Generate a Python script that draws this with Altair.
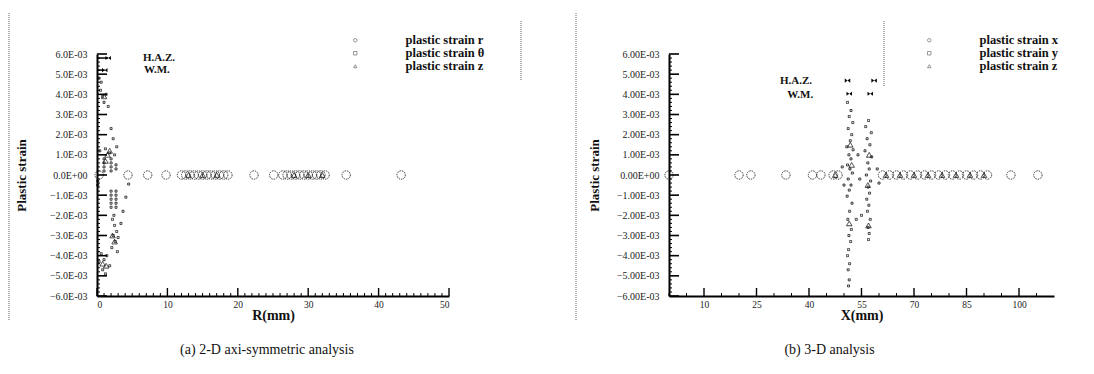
import altair as alt
import pandas as pd

SERIF = "Liberation Serif"

# ---------------- shared axis data ----------------
y_ticks = [-6, -5, -4, -3, -2, -1, 0, 1, 2, 3, 4, 5, 6]          # x 1e-3
y_minor = [v / 5 for v in range(-30, 31) if v % 5 != 0]           # x 1e-3

# ---------------- panel (a) data: 2-D axi-symmetric ----------------
a_series = ["plastic strain r", "plastic strain \u03b8", "plastic strain z"]
a_r_x = [0.3, 4.4, 7.2, 9.8, 12.0, 12.6, 13.2, 13.8, 14.4, 15.0, 15.6, 16.2, 16.8, 17.4, 18.0, 18.6,
         22.3, 25.1, 26.4, 27.0, 27.6, 28.2, 28.8, 29.4, 30.0, 30.6, 31.2, 31.8, 32.4, 35.4, 43.2]
a_r_y = [0.0] * len(a_r_x)
a_t_x = [0.5, 0.8, 1.0, 1.3, 1.6, 2.0, 2.3, 0.4, 1.2, 1.8, 2.5, 2.8,
         1.0, 1.0, 1.0, 1.0, 2.0, 2.0, 2.0, 2.0, 2.7, 2.7, 0.1, 0.1,
         2.0, 2.0, 2.0, 2.0, 2.0, 2.7, 2.7, 2.7, 2.7, 2.7,
         4.1, 4.5, 3.7, 3.4,
         2.2, 2.5, 2.8, 2.3, 2.6, 3.0, 2.1, 2.9, 2.4,
         0.6, 1.0, 1.4, 1.8, 0.8, 0.3, 1.2, 0.3, 0.6]
a_t_y = [4.2, 3.9, 3.6, 4.0, 3.4, 2.3, 1.8, 1.2, 1.3, 1.1, 1.0, 1.4,
         0.8, 0.6, 0.4, 0.2, 0.8, 0.6, 0.4, 0.2, 0.5, 0.3, -0.3, -0.5,
         -0.8, -1.0, -1.2, -1.4, -1.6, -0.8, -1.0, -1.2, -1.4, -1.6,
         -1.1, -0.45, -1.8, -2.4,
         -2.2, -2.5, -2.8, -3.0, -3.3, -3.1, -3.6, -3.8, -2.0,
         -3.9, -4.2, -4.0, -4.5, -4.7, -4.3, -4.9, 4.8, 4.6]
a_z_x = [1.5, 1.8, 1.2, 2.2, 2.5, 1.3, 0.8, 1.0, 13.0, 15.0, 17.0, 28.0, 30.0, 32.0]
a_z_y = [1.0, 1.2, 0.7, -3.0, -3.3, -4.5, -4.4, 3.9, 0.0, 0.0, 0.0, 0.0, 0.0, 0.0]
a_x_ticks = [0, 10, 20, 30, 40, 50]
a_x_minor = [v for v in range(0, 51) if v % 10 != 0]
a_notes = ["H.A.Z.", "W.M."]
a_note_x = [8.8, 8.5]
a_note_y = [5.8, 5.2]
a_bow_x = [1.6, 1.1]
a_bow_y = [5.8, 5.2]

# ---------------- panel (b) data: 3-D ----------------
b_series = ["plastic strain x", "plastic strain y", "plastic strain z"]
b_x_x = [0.0, 20.0, 23.4, 33.4, 41.0, 43.4, 46.9, 48.3,
         61, 63, 65, 67, 69, 71, 73, 75, 77, 79, 81, 83, 85, 87, 89, 91, 97.7, 105.4]
b_x_y = [0.0] * len(b_x_x)
b_y_x = [51.0, 52.0, 51.5, 52.5, 51.2, 52.2, 51.8, 50.8, 52.6, 51.4, 52.0, 51.0, 51.7, 52.4, 51.2,
         52.0, 51.5, 50.9, 52.3, 51.6, 51.1, 52.1, 51.4, 51.9, 51.3, 51.0, 51.6, 51.2, 51.5, 51.3,
         57.0, 56.2, 57.8, 56.6, 57.4, 56.0, 57.9, 56.8, 57.2, 56.4, 57.6, 56.9, 57.3, 56.5, 57.1,
         56.7, 57.5, 56.9, 57.2, 57.0,
         49.5, 50.0, 54.0, 54.5, 59.5, 60.0, 55.0, 53.5]
b_y_y = [3.6, 3.2, 2.9, 2.6, 2.3, 2.0, 1.7, 1.4, 1.25, 1.0, 0.8, 0.5, 0.3, 0.1, -0.2,
         -0.5, -0.75, -1.05, -1.4, -1.8, -2.2, -2.7, -3.0, -3.3, -3.7, -4.0, -4.4, -4.7, -5.2, -5.5,
         2.7, 2.4, 2.1, 1.8, 1.5, 1.2, 0.9, 0.6, 0.3, 0.0, -0.3, -0.6, -0.9, -1.2, -1.5,
         -1.8, -2.2, -2.6, -2.9, -3.2,
         0.4, -0.5, 1.0, -0.2, 0.3, -0.4, -2.0, -2.2]
b_z_x = [51.8, 52.2, 57.2, 56.8, 51.5, 57.0, 47.5, 62, 66, 70, 74, 78, 82, 86, 90]
b_z_y = [1.5, 0.5, 1.0, -0.5, -2.4, -2.5, 0.0, 0.0, 0.0, 0.0, 0.0, 0.0, 0.0, 0.0, 0.0]
b_x_ticks = [10, 25, 40, 55, 70, 85, 100]
b_x_minor = [0, 5, 15, 20, 30, 35, 45, 50, 60, 65, 75, 80, 90, 95, 105]
b_notes = ["H.A.Z.", "W.M."]
b_note_x = [36.3, 37.5]
b_note_y = [4.68, 3.95]
b_bow_x = [51.0, 58.6, 51.5, 57.5]
b_bow_y = [4.68, 4.68, 4.03, 4.03]

H = 242
BOWTIE = "M-1,-0.75L0,0L-1,0.75Z M1,-0.75L0,0L1,0.75Z"
SHAPES = ["circle", "square", "triangle-up"]
SIZES = [70, 4, 30]


def ylabel_expr(dec):
    zero = "0." + "0" * dec + "E+00"
    return (f"datum.value == 0 ? '{zero}' : "
            f"format(datum.value * 1000, '.{dec}f') + 'E-03'")


def panel(series, pts, xdom, xticks, xminor, xtitle, dec, notes, nx, ny, bx, by,
          width, leg_x, frame_x, leg_line_x, leg_line_bot, caption, cap_dx, hbars, title_x):
    xs = alt.Scale(domain=xdom, nice=False, zero=False)
    ys = alt.Scale(domain=[-0.006, 0.006], nice=False)
    ax_common = dict(labelFont=SERIF, labelColor="#222", domainColor="black",
                     domainWidth=2, ticks=False, grid=False, titleFont=SERIF,
                     titleFontWeight="bold", titleColor="#111")
    X = alt.X("x:Q", scale=xs, title=xtitle,
              axis=alt.Axis(values=xticks, labelPadding=3, titlePadding=0, titleFontSize=14,
                            labelFontSize=9.5, **ax_common))
    Y = alt.Y("y:Q", scale=ys, title="Plastic strain",
              axis=alt.Axis(values=[v * 1e-3 for v in y_ticks], labelExpr=ylabel_expr(dec),
                            labelPadding=10, titleX=title_x, titleFontSize=13,
                            labelFontSize=10, **ax_common))
    SH = alt.Shape("series:N", scale=alt.Scale(domain=series, range=SHAPES),
                   legend=alt.Legend(title=None, orient="none", legendX=leg_x, legendY=-20,
                                     labelFont=SERIF, labelFontSize=12.5, labelFontWeight="bold",
                                     labelColor="#111", symbolSize=12, symbolStrokeWidth=0.8,
                                     symbolStrokeColor="#666", labelOffset=44, rowPadding=-3))
    layers = []
    # inward ticks
    layers.append(alt.Chart(pd.DataFrame({"y": [v * 1e-3 for v in y_ticks]})).mark_rule(
        color="black", strokeWidth=1.6).encode(y=Y, x=alt.value(0), x2=alt.value(10)))
    layers.append(alt.Chart(pd.DataFrame({"y": [v * 1e-3 for v in y_minor]})).mark_rule(
        color="black", strokeWidth=1).encode(y=Y, x=alt.value(0), x2=alt.value(3)))
    layers.append(alt.Chart(pd.DataFrame({"x": xticks})).mark_rule(
        color="black", strokeWidth=1.4).encode(x=X, y=alt.value(H), y2=alt.value(H - 8)))
    layers.append(alt.Chart(pd.DataFrame({"x": xminor})).mark_rule(
        color="black", strokeWidth=1).encode(x=X, y=alt.value(H), y2=alt.value(H - 3)))
    # data series
    for i, (xv, yv) in enumerate(pts):
        df = pd.DataFrame({"x": xv, "y": [v * 1e-3 for v in yv], "series": series[i]})
        layers.append(alt.Chart(df).mark_point(
            color="black", strokeWidth=0.9, opacity=0.85, size=SIZES[i],
            strokeDash=[1.5, 1] if i == 0 else [1, 0]).encode(x=X, y=Y, shape=SH))
    # annotations
    ndf = pd.DataFrame({"t": notes, "x": nx, "y": [v * 1e-3 for v in ny]})
    layers.append(alt.Chart(ndf).mark_text(font=SERIF, fontSize=11, fontWeight="bold",
                                           color="#111").encode(x=X, y=Y, text="t:N"))
    bdf = pd.DataFrame({"x": bx, "y": [v * 1e-3 for v in by]})
    layers.append(alt.Chart(bdf).mark_point(shape=BOWTIE, filled=True, size=30, color="black",
                                            opacity=1).encode(x=X, y=Y))
    if hbars:
        hdf = pd.DataFrame({"x": [0] * len(bx), "x2": bx, "y": [v * 1e-3 for v in by]})
        layers.append(alt.Chart(hdf).mark_rule(color="black", strokeWidth=1.5).encode(
            x=X, x2="x2:Q", y=Y))
    one = pd.DataFrame({"a": [0]})
    layers.append(alt.Chart(one).mark_rule(color="#666", strokeDash=[1, 1], strokeWidth=1).encode(
        x=alt.value(frame_x), y=alt.value(-41), y2=alt.value(267)))
    layers.append(alt.Chart(one).mark_rule(color="#666", strokeDash=[1, 1], strokeWidth=1).encode(
        x=alt.value(leg_line_x), y=alt.value(-33), y2=alt.value(leg_line_bot)))
    return alt.layer(*layers).properties(
        width=width, height=H,
        title=alt.TitleParams(caption, orient="bottom", font=SERIF, fontSize=14, fontWeight="normal",
                              color="#111", offset=20, dx=cap_dx))


left = panel(a_series, [(a_r_x, a_r_y), (a_t_x, a_t_y), (a_z_x, a_z_y)], [0, 50], a_x_ticks,
             a_x_minor, "R(mm)", 1, a_notes, a_note_x, a_note_y, a_bow_x, a_bow_y,
             352, 252, -88, 424, 27, "(a) 2-D axi-symmetric analysis", -6, True, -69)
right = panel(b_series, [(b_x_x, b_x_y), (b_y_x, b_y_y), (b_z_x, b_z_y)], [0, 110], b_x_ticks,
              b_x_minor, "X(mm)", 2, b_notes, b_note_x, b_note_y, b_bow_x, b_bow_y,
              385, 254, -93, 215, 32, "(b) 3-D analysis", -32, False, -68)

chart = alt.hconcat(left, right, spacing=220, bounds="flush").resolve_scale(
    shape="independent").properties(
    padding={"left": 8, "top": 12, "right": 5, "bottom": 5}, background="white"
).configure_view(stroke=None)

chart.save("out.html", embed_options={"renderer": "svg", "actions": False})
